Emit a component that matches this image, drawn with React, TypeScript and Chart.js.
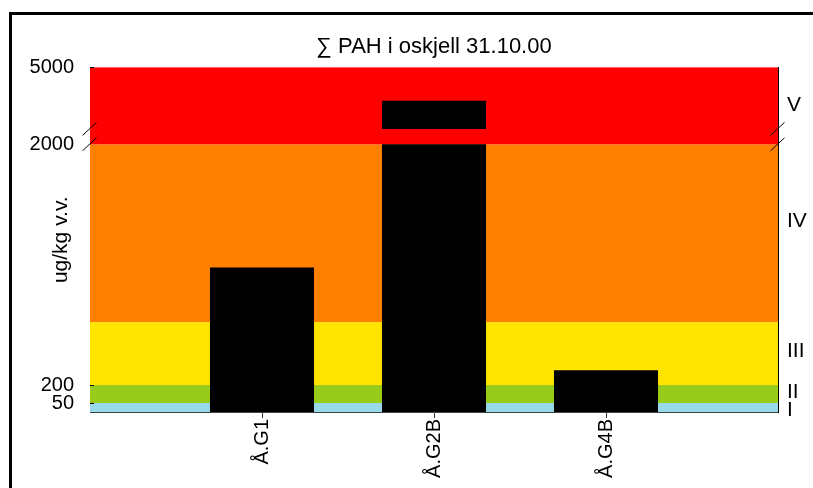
import React, { useEffect, useRef } from "react";
import { Chart, registerables } from "chart.js";

Chart.register(...registerables);

// ---- data ----
const TITLE = "∑ PAH i oskjell 31.10.00";
const Y_TITLE = "ug/kg v.v.";
const CATEGORIES = ["Å.G1", "Å.G2B", "Å.G4B"];
const PAH_VALUES = [960, 3700, 270];
const Y_TICK_VALUES = [50, 200, 2000, 5000];
// piecewise axis: value breakpoints and the relative weight of each segment
const AXIS_BREAKS = [0, 50, 200, 500, 2000, 5000];
const AXIS_SEGMENT_WEIGHTS = [9, 18, 63, 178, 77];
// axis break (values hidden between these two)
const AXIS_GAP = [2000, 2600];
// pollution classes
const CLASS_NAMES = ["I", "II", "III", "IV", "V"];
const CLASS_LIMITS = [0, 50, 200, 500, 2000, 5000];
const CLASS_COLORS = ["#98DAEA", "#99CC1A", "#FFE400", "#FF7F00", "#FF0000"];
const CLASS_LABEL_AT = [8, 140, 360, 1350, 3540];

const FONT = "'Liberation Sans', Arial, Helvetica, sans-serif";

const CUM = AXIS_SEGMENT_WEIGHTS.reduce<number[]>((acc, w) => {
  acc.push(acc[acc.length - 1] + w);
  return acc;
}, [0]);
const AXIS_MAX = CUM[CUM.length - 1];

function f(v: number): number {
  for (let i = 0; i < AXIS_BREAKS.length - 1; i++) {
    const lo = AXIS_BREAKS[i];
    const hi = AXIS_BREAKS[i + 1];
    if (v <= hi || i === AXIS_BREAKS.length - 2) {
      return CUM[i] + ((v - lo) / (hi - lo)) * AXIS_SEGMENT_WEIGHTS[i];
    }
  }
  return AXIS_MAX;
}

const bandsPlugin = {
  id: "classBands",
  beforeDatasetsDraw(chart: any) {
    const { ctx, chartArea } = chart;
    const y = chart.scales.y;
    ctx.save();
    for (let i = 0; i < CLASS_NAMES.length; i++) {
      const top = y.getPixelForValue(f(CLASS_LIMITS[i + 1]));
      const bot = y.getPixelForValue(f(CLASS_LIMITS[i]));
      ctx.fillStyle = CLASS_COLORS[i];
      ctx.fillRect(chartArea.left, top, chartArea.right - chartArea.left, bot - top);
    }
    ctx.restore();
  },
  afterDraw(chart: any) {
    const { ctx, chartArea } = chart;
    const y = chart.scales.y;
    ctx.save();
    ctx.strokeStyle = "#000";
    ctx.lineWidth = 1;
    // inward tick marks on the left axis
    for (const v of Y_TICK_VALUES) {
      if (AXIS_GAP.includes(v)) continue;
      const py = Math.round(y.getPixelForValue(f(v))) + 0.5;
      ctx.beginPath();
      ctx.moveTo(chartArea.left, py);
      ctx.lineTo(chartArea.left + 4, py);
      ctx.stroke();
    }
    // axis-break slashes on both sides
    for (const x of [chartArea.left - 0.5, chartArea.right - 0.5]) {
      for (const v of AXIS_GAP) {
        const py = y.getPixelForValue(f(v));
        ctx.beginPath();
        ctx.moveTo(x - 7, py + 6.5);
        ctx.lineTo(x + 7, py - 6.5);
        ctx.stroke();
      }
    }
    ctx.restore();
  },
};

export default function App() {
  const ref = useRef<HTMLCanvasElement>(null);

  useEffect(() => {
    const lower = CATEGORIES.map((_, i) => ({
      x: i + 1,
      y: [0, f(Math.min(PAH_VALUES[i], AXIS_GAP[0]))],
    }));
    const upper = CATEGORIES.map((_, i) => i)
      .filter((i) => PAH_VALUES[i] > AXIS_GAP[0])
      .map((i) => ({ x: i + 1, y: [f(AXIS_GAP[1]), f(PAH_VALUES[i])] }));

    const chart = new Chart(ref.current as HTMLCanvasElement, {
      type: "bar",
      data: {
        datasets: [
          {
            data: lower as any,
            backgroundColor: "#000",
            borderWidth: 0,
            grouped: false,
            barPercentage: 0.605,
            categoryPercentage: 1,
          } as any,
          {
            data: upper as any,
            backgroundColor: "#000",
            borderWidth: 0,
            grouped: false,
            barPercentage: 0.605,
            categoryPercentage: 1,
          } as any,
        ],
      },
      options: {
        responsive: false,
        animation: false,
        layout: { padding: 0 },
        plugins: {
          legend: { display: false },
          tooltip: { enabled: false },
          title: {
            display: true,
            text: TITLE,
            fullSize: false,
            color: "#000",
            font: { family: FONT, size: 22, weight: "normal", lineHeight: 1.2 },
            padding: { top: 34, bottom: 7 },
          },
        },
        scales: {
          x: {
            type: "linear",
            position: "bottom",
            min: 0,
            max: CATEGORIES.length + 1,
            offset: false,
            z: 1,
            afterBuildTicks: (s: any) => {
              s.ticks = CATEGORIES.map((_, i) => ({ value: i + 1 }));
            },
            afterFit: (s: any) => {
              s.height = 76;
            },
            ticks: {
              autoSkip: false,
              minRotation: 90,
              maxRotation: 90,
              padding: 1,
              color: "#000",
              font: { family: FONT, size: 20 },
              callback: (v: any) => CATEGORIES[Math.round(Number(v)) - 1] ?? "",
            },
            grid: {
              display: true,
              offset: false,
              drawOnChartArea: false,
              drawTicks: true,
              tickLength: 6,
              color: "#333",
            },
            border: { display: true, color: "#3a4646", width: 1 },
          } as any,
          y: {
            type: "linear",
            position: "left",
            min: 0,
            max: AXIS_MAX,
            z: 1,
            afterBuildTicks: (s: any) => {
              s.ticks = Y_TICK_VALUES.map((v) => ({ value: f(v) }));
            },
            afterFit: (s: any) => {
              s.width = 90;
            },
            ticks: {
              autoSkip: false,
              padding: 16,
              color: "#000",
              font: { family: FONT, size: 20 },
              callback: (_v: any, i: number) => String(Y_TICK_VALUES[i]),
            },
            grid: { display: false, drawTicks: false },
            border: { display: true, color: "#404040", width: 1 },
            title: {
              display: true,
              text: Y_TITLE,
              color: "#000",
              font: { family: FONT, size: 21 },
              padding: { top: 49, bottom: 0 },
            },
          } as any,
          y2: {
            type: "linear",
            position: "right",
            min: 0,
            max: AXIS_MAX,
            z: 1,
            afterBuildTicks: (s: any) => {
              s.ticks = CLASS_LABEL_AT.map((v) => ({ value: f(v) }));
            },
            afterFit: (s: any) => {
              s.width = 35;
            },
            ticks: {
              autoSkip: false,
              padding: 9,
              color: "#000",
              font: { family: FONT, size: 21 },
              callback: (_v: any, i: number) => CLASS_NAMES[i],
            },
            grid: { display: false, drawTicks: false },
            border: { display: true, color: "#000", width: 1 },
          } as any,
        },
      },
      plugins: [bandsPlugin],
    });
    return () => chart.destroy();
  }, []);

  return (
    <div
      style={{
        position: "fixed",
        left: 0,
        top: 0,
        width: 813,
        height: 488,
        overflow: "hidden",
        background: "#fff",
      }}
    >
      <canvas
        ref={ref}
        width={813}
        height={488}
        style={{ position: "absolute", left: 0, top: 0, width: 813, height: 488 }}
      />
      <div
        style={{
          position: "absolute",
          left: 9,
          top: 12,
          width: 900,
          height: 600,
          border: "3px solid #000",
          boxSizing: "border-box",
          pointerEvents: "none",
        }}
      />
    </div>
  );
}
